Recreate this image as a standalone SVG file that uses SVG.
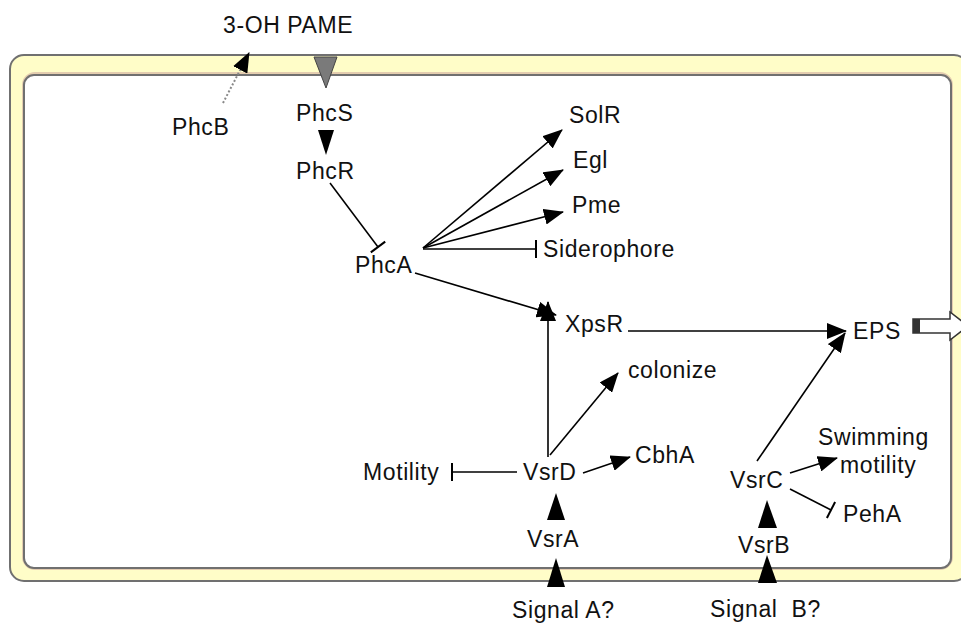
<svg xmlns="http://www.w3.org/2000/svg" width="961" height="627" viewBox="0 0 961 627">
<style>
text{font-family:"Liberation Sans",Arial,sans-serif;font-size:23px;fill:#111;letter-spacing:0.6px}
.ln{stroke:#000;stroke-width:1.6;fill:none}
.act{marker-end:url(#arr)}
.inh{marker-end:url(#bar)}
.tri{fill:#000}
</style>
<defs>
<marker id="arr" viewBox="0 0 20 16" markerWidth="20" markerHeight="16" refX="19" refY="8" orient="auto" markerUnits="userSpaceOnUse">
<path d="M0,0 L20,8 L0,16 z" fill="#000"/>
</marker>
<marker id="bar" viewBox="0 0 4 20" markerWidth="4" markerHeight="20" refX="2" refY="10" orient="auto" markerUnits="userSpaceOnUse">
<path d="M2,1 L2,19" stroke="#000" stroke-width="2"/>
</marker>
</defs>
<g id="membrane">
<rect x="10" y="55" width="958" height="526" rx="14" fill="#fffdc8" stroke="#707070" stroke-width="2"/>
<rect x="24" y="74" width="927" height="494" rx="11" fill="none" stroke="#e4cdb0" stroke-width="4"/>
<rect x="24" y="75" width="927" height="493" rx="10" fill="#fff" stroke="#707070" stroke-width="2"/>
</g>
<g id="connectors">
<line x1="223" y1="103" x2="249" y2="53" stroke="#888" stroke-width="2" stroke-dasharray="2,2" marker-end="url(#arr)"/>
<polygon points="314,57 337,57 326,88" fill="#7a7a7a" stroke="#444" stroke-width="1"/>
<polygon class="tri" points="318,130 334,130 326,155"/>
<line class="ln inh" x1="330" y1="183" x2="378" y2="247"/>
<line class="ln act" x1="423" y1="248" x2="562" y2="130"/>
<line class="ln act" x1="423" y1="248" x2="563" y2="170"/>
<line class="ln act" x1="423" y1="248" x2="563" y2="212"/>
<line class="ln inh" x1="423" y1="249" x2="536" y2="249"/>
<line class="ln act" x1="415" y1="273" x2="556" y2="315"/>
<line class="ln act" x1="548" y1="457" x2="548" y2="302"/>
<line class="ln act" x1="628" y1="331" x2="846" y2="331"/>
<line class="ln act" x1="757" y1="461" x2="845" y2="333"/>
<line class="ln act" x1="550" y1="455" x2="618" y2="373"/>
<line class="ln act" x1="583" y1="473" x2="630" y2="457"/>
<line class="ln inh" x1="517" y1="472" x2="452" y2="472"/>
<polygon class="tri" points="547,520 565,520 556,493"/>
<polygon class="tri" points="547,587 565,587 556,558"/>
<polygon class="tri" points="758,528 777,528 767,500"/>
<polygon class="tri" points="758,583 777,583 767,555"/>
<line class="ln act" x1="790" y1="473" x2="837" y2="458"/>
<line class="ln inh" x1="790" y1="489" x2="831" y2="510"/>
<path d="M913,319 L950,319 L950,312 L968,326 L950,340 L950,333 L913,333 z" fill="#fff" stroke="#333" stroke-width="1.5"/>
<rect x="913" y="319" width="7" height="14" fill="#333"/>
</g>
<g id="n-3ohpame"><text x="223" y="33">3-OH PAME</text></g>
<g id="n-phcb"><text x="172" y="135">PhcB</text></g>
<g id="n-phcs"><text x="296" y="121">PhcS</text></g>
<g id="n-phcr"><text x="296" y="179">PhcR</text></g>
<g id="n-phca"><text x="355" y="273">PhcA</text></g>
<g id="n-solr"><text x="569" y="123">SolR</text></g>
<g id="n-egl"><text x="573" y="168">Egl</text></g>
<g id="n-pme"><text x="572" y="213">Pme</text></g>
<g id="n-siderophore"><text x="543" y="257">Siderophore</text></g>
<g id="n-xpsr"><text x="565" y="332">XpsR</text></g>
<g id="n-eps"><text x="853" y="339">EPS</text></g>
<g id="n-colonize"><text x="628" y="378">colonize</text></g>
<g id="n-cbha"><text x="635" y="463">CbhA</text></g>
<g id="n-swimming"><text x="818" y="445">Swimming</text><text x="840" y="473">motility</text></g>
<g id="n-motility"><text x="363" y="480">Motility</text></g>
<g id="n-vsrd"><text x="523" y="480">VsrD</text></g>
<g id="n-vsra"><text x="527" y="547">VsrA</text></g>
<g id="n-vsrc"><text x="730" y="488">VsrC</text></g>
<g id="n-peha"><text x="843" y="522">PehA</text></g>
<g id="n-vsrb"><text x="738" y="553">VsrB</text></g>
<g id="n-signala"><text x="512" y="618">Signal A?</text></g>
<g id="n-signalb"><text x="710" y="617" xml:space="preserve">Signal  B?</text></g>
</svg>
